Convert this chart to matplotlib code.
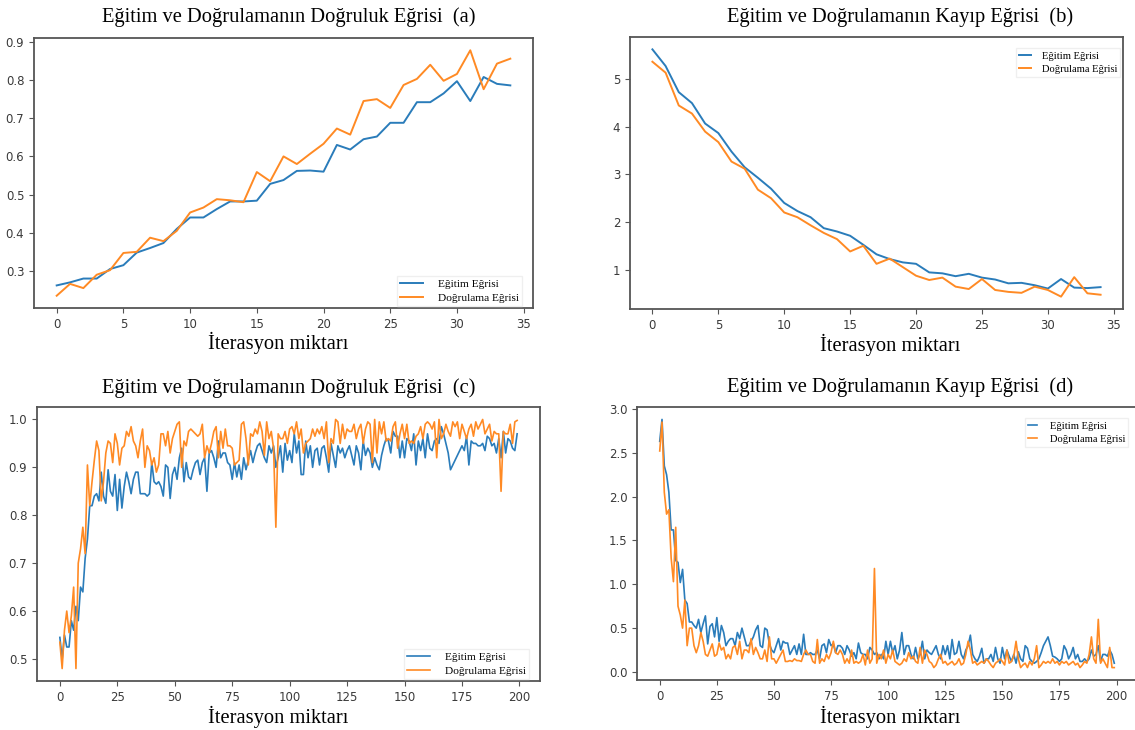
import numpy as np
import matplotlib
matplotlib.use("Agg")
import matplotlib.pyplot as plt

W, H = 1135, 730

# ---- data ----
epochs_a = np.arange(35)
train_acc_a = [0.262, 0.270, 0.280, 0.280, 0.305, 0.315, 0.348, 0.360, 0.373, 0.410,
               0.440, 0.440, 0.462, 0.482, 0.482, 0.484, 0.528, 0.538, 0.562, 0.563,
               0.560, 0.630, 0.618, 0.645, 0.652, 0.688, 0.688, 0.742, 0.742, 0.765,
               0.797, 0.745, 0.808, 0.790, 0.786]
val_acc_a = [0.235, 0.266, 0.255, 0.290, 0.302, 0.347, 0.350, 0.387, 0.378, 0.405,
             0.453, 0.466, 0.488, 0.485, 0.480, 0.559, 0.535, 0.600, 0.580, 0.607,
             0.633, 0.673, 0.657, 0.745, 0.750, 0.727, 0.787, 0.803, 0.840, 0.798,
             0.816, 0.878, 0.776, 0.843, 0.856]

train_loss_b = [5.63, 5.28, 4.73, 4.50, 4.07, 3.87, 3.48, 3.15, 2.93, 2.70,
                2.40, 2.23, 2.10, 1.87, 1.80, 1.71, 1.52, 1.32, 1.22, 1.15,
                1.12, 0.94, 0.92, 0.86, 0.91, 0.83, 0.79, 0.71, 0.72, 0.67,
                0.60, 0.80, 0.62, 0.61, 0.63]
val_loss_b = [5.37, 5.14, 4.45, 4.28, 3.90, 3.68, 3.27, 3.12, 2.68, 2.50,
              2.20, 2.10, 1.93, 1.77, 1.64, 1.38, 1.50, 1.12, 1.23, 1.05,
              0.87, 0.78, 0.83, 0.64, 0.59, 0.80, 0.57, 0.53, 0.51, 0.64,
              0.57, 0.43, 0.84, 0.50, 0.47]

epochs_c = np.arange(200)
train_acc_c = [0.545, 0.500, 0.550, 0.525, 0.525, 0.580, 0.560, 0.610, 0.580, 0.650,
               0.640, 0.710, 0.750, 0.820, 0.820, 0.840, 0.845, 0.830, 0.890, 0.840,
               0.825, 0.895, 0.850, 0.840, 0.885, 0.810, 0.875, 0.815, 0.860, 0.890,
               0.870, 0.845, 0.875, 0.890, 0.890, 0.845, 0.845, 0.845, 0.840, 0.845,
               0.910, 0.870, 0.865, 0.870, 0.860, 0.840, 0.905, 0.900, 0.835, 0.885,
               0.900, 0.875, 0.920, 0.940, 0.870, 0.910, 0.880, 0.875, 0.895, 0.910,
               0.915, 0.885, 0.910, 0.920, 0.850, 0.930, 0.935, 0.920, 0.900, 0.955,
               0.920, 0.930, 0.930, 0.910, 0.905, 0.875, 0.910, 0.880, 0.905, 0.875,
               0.920, 0.895, 0.915, 0.935, 0.910, 0.930, 0.945, 0.950, 0.935, 0.920,
               0.910, 0.945, 0.930, 0.945, 0.900, 0.920, 0.945, 0.890, 0.950, 0.915,
               0.935, 0.910, 0.970, 0.930, 0.955, 0.885, 0.885, 0.955, 0.920, 0.945,
               0.900, 0.935, 0.940, 0.905, 0.940, 0.945, 0.920, 0.890, 0.950, 0.925,
               0.900, 0.945, 0.930, 0.940, 0.920, 0.935, 0.945, 0.925, 0.905, 0.945,
               0.930, 0.895, 0.955, 0.925, 0.940, 0.930, 0.900, 0.920, 0.905, 0.895,
               0.925, 0.945, 0.960, 0.955, 0.930, 0.975, 0.965, 0.965, 0.920, 0.955,
               0.920, 0.960, 0.955, 0.935, 0.970, 0.905, 0.955, 0.935, 0.960, 0.920,
               0.970, 0.940, 0.935, 0.955, 0.960, 0.950, 0.985, 0.970, 0.950, 0.930,
               0.895, 0.905, 0.915, 0.925, 0.935, 0.945, 0.935, 0.965, 0.905, 0.955,
               0.950, 0.950, 0.945, 0.945, 0.950, 0.935, 0.965, 0.960, 0.945, 0.950,
               0.930, 0.960, 0.920, 0.975, 0.930, 0.960, 0.955, 0.940, 0.935, 0.970]
val_acc_c = [0.535, 0.480, 0.560, 0.600, 0.555, 0.590, 0.650, 0.480, 0.700, 0.730,
             0.775, 0.720, 0.905, 0.820, 0.870, 0.915, 0.955, 0.935, 0.830, 0.870,
             0.930, 0.955, 0.950, 0.910, 0.970, 0.950, 0.905, 0.940, 0.945, 0.975,
             0.965, 0.985, 0.955, 0.945, 0.920, 0.955, 0.980, 0.900, 0.945, 0.935,
             0.905, 0.920, 0.890, 0.905, 0.970, 0.970, 0.945, 0.975, 0.930, 0.960,
             0.975, 0.990, 0.995, 0.900, 0.955, 0.945, 0.975, 0.980, 0.975, 0.970,
             0.965, 0.970, 0.990, 0.920, 0.945, 0.930, 0.950, 0.975, 0.985, 0.920,
             0.975, 0.940, 0.980, 0.945, 0.945, 0.940, 0.905, 0.910, 0.915, 0.990,
             0.995, 0.960, 0.905, 0.970, 0.965, 0.980, 0.970, 0.995, 0.975, 0.925,
             0.995, 0.960, 0.975, 0.940, 0.775, 0.970, 0.960, 0.960, 0.975, 0.950,
             0.980, 0.985, 0.970, 0.995, 0.960, 0.980, 0.930, 0.950, 0.955, 0.960,
             0.980, 0.965, 0.980, 0.970, 0.985, 0.960, 0.995, 0.910, 0.960, 0.950,
             1.000, 0.995, 0.950, 0.990, 0.960, 0.980, 0.975, 0.975, 0.990, 0.960,
             0.980, 0.990, 0.950, 0.980, 0.995, 0.990, 0.910, 1.000, 0.930, 0.995,
             0.970, 0.995, 0.955, 0.960, 0.955, 0.985, 0.995, 0.940, 0.970, 0.990,
             0.960, 0.990, 0.950, 0.955, 0.950, 0.965, 0.970, 0.985, 0.960, 0.990,
             0.995, 0.990, 0.980, 0.995, 0.920, 1.000, 0.960, 0.970, 0.990, 0.975,
             0.965, 0.995, 0.985, 0.995, 0.960, 0.990, 0.975, 0.960, 0.980, 0.990,
             0.965, 0.995, 0.980, 0.990, 1.000, 0.970, 0.980, 0.990, 0.955, 0.975,
             0.970, 0.970, 0.850, 0.975, 0.970, 0.970, 0.990, 0.950, 0.995, 0.998]

train_loss_d = [2.63, 2.88, 2.35, 2.25, 2.05, 1.62, 1.62, 1.27, 1.25, 1.02,
                1.17, 0.82, 0.78, 0.57, 0.57, 0.53, 0.50, 0.60, 0.45, 0.55,
                0.64, 0.32, 0.52, 0.55, 0.40, 0.62, 0.35, 0.53, 0.45, 0.30,
                0.35, 0.38, 0.38, 0.30, 0.45, 0.38, 0.50, 0.40, 0.30, 0.30,
                0.35, 0.40, 0.48, 0.53, 0.30, 0.28, 0.50, 0.48, 0.32, 0.25,
                0.22, 0.30, 0.38, 0.25, 0.35, 0.33, 0.33, 0.20, 0.25, 0.30,
                0.20, 0.32, 0.20, 0.43, 0.20, 0.20, 0.22, 0.20, 0.20, 0.25,
                0.15, 0.30, 0.32, 0.22, 0.37, 0.30, 0.32, 0.22, 0.30, 0.30,
                0.27, 0.20, 0.30, 0.25, 0.18, 0.22, 0.15, 0.33, 0.22, 0.20,
                0.20, 0.15, 0.28, 0.25, 0.20, 0.22, 0.15, 0.20, 0.15, 0.35,
                0.20, 0.35, 0.22, 0.30, 0.15, 0.25, 0.45, 0.20, 0.30, 0.30,
                0.20, 0.15, 0.28, 0.15, 0.20, 0.35, 0.15, 0.25, 0.22, 0.20,
                0.25, 0.30, 0.20, 0.15, 0.30, 0.20, 0.30, 0.15, 0.37, 0.20,
                0.22, 0.35, 0.20, 0.15, 0.25, 0.30, 0.42, 0.20, 0.15, 0.12,
                0.18, 0.27, 0.10, 0.15, 0.15, 0.20, 0.12, 0.28, 0.15, 0.10,
                0.28, 0.15, 0.25, 0.18, 0.12, 0.20, 0.10, 0.23, 0.15, 0.12,
                0.30, 0.27, 0.15, 0.12, 0.10, 0.12, 0.15, 0.22, 0.30, 0.35,
                0.40, 0.30, 0.18, 0.17, 0.15, 0.12, 0.15, 0.30, 0.25, 0.15,
                0.20, 0.28, 0.15, 0.20, 0.12, 0.12, 0.15, 0.12, 0.15, 0.25,
                0.18, 0.20, 0.30, 0.12, 0.20, 0.20, 0.18, 0.25, 0.20, 0.10]
val_loss_d = [2.52, 2.85, 2.05, 1.80, 1.85, 1.30, 1.03, 1.65, 0.75, 0.65,
              0.50, 0.82, 0.30, 0.50, 0.50, 0.30, 0.22, 0.30, 0.45, 0.35,
              0.20, 0.18, 0.25, 0.32, 0.18, 0.20, 0.33, 0.25, 0.28, 0.15,
              0.20, 0.15, 0.28, 0.30, 0.20, 0.35, 0.15, 0.25, 0.25, 0.22,
              0.38, 0.20, 0.28, 0.22, 0.15, 0.15, 0.25, 0.12, 0.40, 0.15,
              0.15, 0.10, 0.15, 0.20, 0.25, 0.12, 0.12, 0.13, 0.12, 0.15,
              0.13, 0.13, 0.12, 0.20, 0.25, 0.20, 0.20, 0.12, 0.10, 0.37,
              0.10, 0.15, 0.12, 0.20, 0.15, 0.22, 0.35, 0.22, 0.20, 0.25,
              0.20, 0.10, 0.15, 0.10, 0.25, 0.10, 0.12, 0.10, 0.12, 0.20,
              0.08, 0.25, 0.10, 0.15, 1.18, 0.10, 0.20, 0.15, 0.25, 0.10,
              0.20, 0.15, 0.25, 0.12, 0.10, 0.08, 0.10, 0.15, 0.12, 0.22,
              0.15, 0.18, 0.12, 0.10, 0.28, 0.10, 0.25, 0.20, 0.12, 0.10,
              0.05, 0.08, 0.15, 0.20, 0.10, 0.12, 0.08, 0.10, 0.12, 0.08,
              0.10, 0.15, 0.08, 0.10, 0.20, 0.35, 0.25, 0.10, 0.12, 0.08,
              0.10, 0.12, 0.10, 0.15, 0.12, 0.08, 0.05, 0.10, 0.12, 0.15,
              0.12, 0.08, 0.25, 0.10, 0.12, 0.18, 0.35, 0.15, 0.05, 0.08,
              0.10, 0.05, 0.12, 0.08, 0.15, 0.30, 0.05, 0.08, 0.12, 0.10,
              0.12, 0.10, 0.15, 0.10, 0.12, 0.08, 0.12, 0.10, 0.12, 0.08,
              0.10, 0.12, 0.08, 0.10, 0.05, 0.08, 0.12, 0.10, 0.20, 0.40,
              0.15, 0.10, 0.60, 0.10, 0.15, 0.10, 0.05, 0.28, 0.05, 0.05]

titles = ["Eğitim ve Doğrulamanın Doğruluk Eğrisi  (a)",
          "Eğitim ve Doğrulamanın Kayıp Eğrisi  (b)",
          "Eğitim ve Doğrulamanın Doğruluk Eğrisi  (c)",
          "Eğitim ve Doğrulamanın Kayıp Eğrisi  (d)"]
xlabel = "İterasyon miktarı"
legend_labels = ["Eğitim Eğrisi", "Doğrulama Eğrisi"]

SERIF = ["Liberation Serif", "DejaVu Serif"]
BLUE, ORANGE = "#2a7cba", "#ff8a24"


def px_axes(fig, left, top, right, bottom):
    # place an axes from pixel edges (origin top-left)
    return fig.add_axes([left / W, 1 - bottom / H, (right - left) / W, (bottom - top) / H])


def style(ax, lw_frame=1.3):
    for s in ax.spines.values():
        s.set_color("#555555")
        s.set_linewidth(lw_frame)
    ax.tick_params(labelsize=8.5, colors="#555555", labelcolor="#3a3a3a", length=3.5, width=0.8)


def add_legend(ax, x, y, size, hlen, hpad):
    ax.legend(legend_labels, loc="upper left", bbox_to_anchor=(x / W, 1 - y / H),
              bbox_transform=fig.transFigure, prop={"family": SERIF, "size": size},
              handlelength=hlen, handletextpad=hpad, frameon=True, fancybox=False,
              edgecolor="#ececec", borderpad=0.3, labelspacing=0.35)


fig = plt.figure(figsize=(W / 100, H / 100), dpi=100)

# (a) accuracy, 35 epochs
ax = px_axes(fig, 34, 38, 533, 308)
ax.plot(epochs_a, train_acc_a, color=BLUE, lw=1.4)
ax.plot(epochs_a, val_acc_a, color=ORANGE, lw=1.4)
style(ax)
ax.set_yticks([0.3, 0.4, 0.5, 0.6, 0.7, 0.8, 0.9])
fig.text(289 / W, 1 - 17 / H, titles[0], ha="center", va="center", family=SERIF, fontsize=14.8)
fig.text(278 / W, 1 - 343 / H, xlabel, ha="center", va="center", family=SERIF, fontsize=14.8)
add_legend(ax, 391, 270, 8.2, 2.0, 1.3)

# (b) loss, 35 epochs
ax = px_axes(fig, 630, 37, 1123, 309)
ax.plot(epochs_a, train_loss_b, color=BLUE, lw=1.4)
ax.plot(epochs_a, val_loss_b, color=ORANGE, lw=1.4)
style(ax)
ax.set_yticks([1, 2, 3, 4, 5])
fig.text(900 / W, 1 - 17 / H, titles[1], ha="center", va="center", family=SERIF, fontsize=14.8)
fig.text(890 / W, 1 - 345 / H, xlabel, ha="center", va="center", family=SERIF, fontsize=14.8)
add_legend(ax, 1011, 43, 7.6, 1.1, 1.0)

# (c) accuracy, 200 epochs
ax = px_axes(fig, 37, 407, 540, 681)
ax.plot(epochs_c, train_acc_c, color=BLUE, lw=1.2)
ax.plot(epochs_c, val_acc_c, color=ORANGE, lw=1.2)
style(ax)
ax.set_yticks([0.5, 0.6, 0.7, 0.8, 0.9, 1.0])
fig.text(289 / W, 1 - 388 / H, titles[2], ha="center", va="center", family=SERIF, fontsize=14.8)
fig.text(278 / W, 1 - 717 / H, xlabel, ha="center", va="center", family=SERIF, fontsize=14.8)
add_legend(ax, 398, 643, 8.2, 2.0, 1.3)

# (d) loss, 200 epochs (right edge runs off the picture)
ax = px_axes(fig, 637, 407, 1137, 680)
ax.plot(epochs_c, train_loss_d, color=BLUE, lw=1.2)
ax.plot(epochs_c, val_loss_d, color=ORANGE, lw=1.2)
style(ax)
ax.set_yticks([0.0, 0.5, 1.0, 1.5, 2.0, 2.5, 3.0])
fig.text(900 / W, 1 - 387 / H, titles[3], ha="center", va="center", family=SERIF, fontsize=14.8)
fig.text(890 / W, 1 - 717 / H, xlabel, ha="center", va="center", family=SERIF, fontsize=14.8)
add_legend(ax, 1020, 413, 7.6, 0.8, 1.2)

fig.savefig("out.png", dpi=100)
